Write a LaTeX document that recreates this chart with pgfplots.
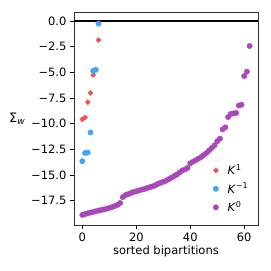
\documentclass[border=0pt]{standalone}
\usepackage{pgfplots}
\pgfplotsset{compat=1.18}
\usepackage{fontspec}
\setmainfont{DejaVu Sans}
\definecolor{cred}{HTML}{EF5350}
\definecolor{cblue}{HTML}{42A5F5}
\definecolor{cpurple}{HTML}{AB47BC}
\begin{document}
\begin{tikzpicture}
\fontsize{11.5}{13}\selectfont
\path[use as bounding box] (-74pt,-46pt) rectangle (197pt,225pt);
\begin{axis}[
  at={(0,0)}, anchor=south west,
  scale only axis, width=184pt, height=213pt,
  xmin=-3.1, xmax=65.1, ymin=-19.86, ymax=0.88,
  xtick={0,20,40,60},
  ytick={-17.5,-15,-12.5,-10,-7.5,-5,-2.5,0},
  yticklabels={−17.5,−15.0,−12.5,−10.0,−7.5,−5.0,−2.5,0.0},
  xticklabels={0,20,40,60},
  tick align=outside, tick pos=left,
  major tick length=3.5pt,
  tick style={black, line width=0.6pt},
  axis line style={black!80, line width=0.6pt},
  ticklabel style={font=\fontsize{11.5}{13}\selectfont},
  xlabel={sorted bipartitions},
  xlabel style={font=\fontsize{11.5}{13}\selectfont, yshift=3pt},
  ylabel={Σ\textsubscript{\textit{w}}},
  ylabel style={rotate=-90, font=\fontsize{13}{15}\selectfont, xshift=2pt},
  legend style={at={(0.975,0.035)}, anchor=south east, draw=none, fill=none,
    font=\fontsize{11.5}{13}\selectfont, row sep=2.5pt},
  legend cell align=left,
]
\addplot[black, line width=1.5pt, forget plot] coordinates {(-3.1,0) (65.1,0)};
\addplot[only marks, mark=square*, mark size=1.8pt, mark options={rotate=45}, color=cred] coordinates {
(0,-9.57) (1,-9.4) (2,-7.9) (3,-7.0) (4,-5.25) (6,-1.85)};
\addlegendentry{\hspace{7pt}\textit{K}\textsuperscript{1}}
\addplot[only marks, mark=*, mark size=2.7pt, color=cblue] coordinates {
(0,-13.65) (1,-12.85) (2,-12.8) (3,-10.85) (4,-4.85) (5,-4.75) (6,-0.25)};
\addlegendentry{\hspace{7pt}\textit{K}\textsuperscript{−1}}
\addplot[only marks, mark=*, mark size=2.7pt, color=cpurple] coordinates {
(0,-18.88) (1,-18.80) (2,-18.72) (3,-18.65) (4,-18.58) (5,-18.52) (6,-18.46)
(7,-18.40) (8,-18.34) (9,-18.27) (10,-18.20) (11,-18.12) (12,-18.02) (13,-17.90)
(14,-17.72) (15,-17.15) (16,-16.95) (17,-16.85) (18,-16.75) (19,-16.65) (20,-16.58)
(21,-16.50) (22,-16.42) (23,-16.35) (24,-16.27) (25,-16.18) (26,-16.10) (27,-16.00)
(28,-15.85) (29,-15.75) (30,-15.65) (31,-15.55) (32,-15.40) (33,-15.25) (34,-15.10)
(35,-14.95) (36,-14.75) (37,-14.55) (38,-14.45) (39,-14.30) (40,-13.85) (41,-13.70)
(42,-13.55) (43,-13.40) (44,-13.25) (45,-13.05) (46,-12.85) (47,-12.60) (48,-12.35)
(49,-12.10) (50,-11.70) (51,-11.45) (52,-10.55) (53,-10.35) (54,-9.35) (55,-9.05)
(56,-9.00) (57,-8.95) (58,-8.22) (59,-8.15) (60,-5.36) (61,-4.93) (62,-2.43)};
\addlegendentry{\hspace{7pt}\textit{K}\textsuperscript{0}}
\end{axis}
\end{tikzpicture}
\end{document}
